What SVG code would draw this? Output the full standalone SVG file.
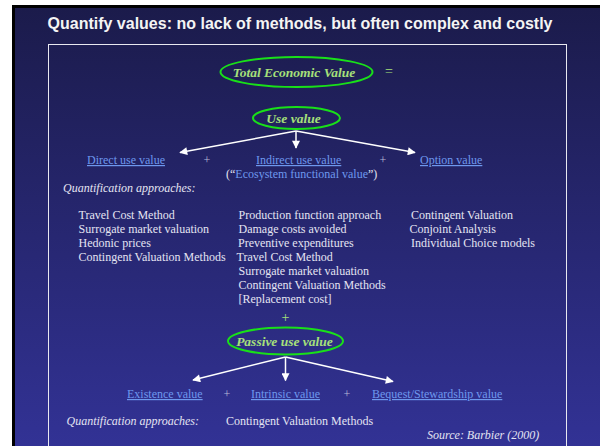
<svg xmlns="http://www.w3.org/2000/svg" width="600" height="446" viewBox="0 0 600 446">
<defs>
<linearGradient id="bg" x1="0" y1="0" x2="0" y2="1">
<stop offset="0" stop-color="#1b1b4b"/>
<stop offset="1" stop-color="#323295"/>
</linearGradient>
<marker id="a" viewBox="0 0 10 10" refX="9" refY="5" markerWidth="10" markerHeight="8" orient="auto" markerUnits="userSpaceOnUse">
<path d="M0,0 L10,5 L0,10 Z" fill="#ffffff"/>
</marker>
</defs>
<style>
.title{font-family:"Liberation Sans",Arial,sans-serif;font-weight:bold;font-size:16px;fill:#f4f4f4}
.ov{font-family:"Liberation Serif","Times New Roman",serif;font-weight:bold;font-style:italic;font-size:13.5px;fill:#a6e07a}
.ell{fill:none;stroke:#19e019;stroke-width:2}
.lnk{font-family:"Liberation Serif","Times New Roman",serif;font-size:12px;fill:#6e98ee;text-decoration:underline}
.blu{font-family:"Liberation Serif","Times New Roman",serif;font-size:12px;fill:#6e98ee}
.txt{font-family:"Liberation Serif","Times New Roman",serif;font-size:12px;fill:#e4e4f2}
.it{font-family:"Liberation Serif","Times New Roman",serif;font-style:italic;font-size:12px;fill:#e4e4f2}
.pl{font-family:"Liberation Serif","Times New Roman",serif;font-size:12px;fill:#b8b8d8}
.gp{font-family:"Liberation Serif","Times New Roman",serif;font-size:14px;fill:#a6e07a}
.con{stroke:#ffffff;stroke-width:1.5;fill:none;marker-end:url(#a)}
</style>
<rect x="0" y="0" width="600" height="446" fill="#ffffff"/>
<rect x="12" y="5" width="588" height="441" fill="#000000"/>
<rect x="15" y="8" width="585" height="438" fill="url(#bg)"/>
<text class="title" x="300" y="29" text-anchor="middle">Quantify values: no lack of methods, but often complex and costly</text>
<rect x="48.5" y="44.5" width="518" height="410" fill="none" stroke="#e8e8f0" stroke-width="1"/>

<g id="tev">
<ellipse class="ell" cx="296.5" cy="72" rx="76" ry="15"/>
<text class="ov" x="294" y="76.5" text-anchor="middle">Total Economic Value</text>
<text class="gp" x="389" y="76" text-anchor="middle">=</text>
</g>
<g id="use">
<ellipse class="ell" cx="296.5" cy="118" rx="43.5" ry="11"/>
<text class="ov" x="293.5" y="122.5" text-anchor="middle">Use value</text>
</g>
<g id="connectors">
<path class="con" d="M296,131 L180,152.5"/>
<path class="con" d="M296,131 L296,148"/>
<path class="con" d="M296,131 L415,152.5"/>
<path class="con" d="M285.5,357 L193,380"/>
<path class="con" d="M285.5,357 L285.5,380.5"/>
<path class="con" d="M285.5,357 L393,381.5"/>
</g>
<g id="direct">
<text class="lnk" x="87" y="164">Direct use value</text>
</g>
<text class="pl" x="207" y="164" text-anchor="middle">+</text>
<g id="indirect">
<text class="lnk" x="256" y="164">Indirect use value</text>
<text class="txt" x="226" y="178">(“<tspan class="blu">Ecosystem functional value</tspan>”)</text>
</g>
<text class="pl" x="383" y="164" text-anchor="middle">+</text>
<g id="option">
<text class="lnk" x="420" y="164">Option value</text>
</g>
<text class="it" x="63" y="192">Quantification approaches:</text>

<g id="col1">
<text class="txt" x="78.5" y="219">Travel Cost Method</text>
<text class="txt" x="78.5" y="233">Surrogate market valuation</text>
<text class="txt" x="78.5" y="247">Hedonic prices</text>
<text class="txt" x="78.5" y="261">Contingent Valuation Methods</text>
</g>
<g id="col2">
<text class="txt" x="238.5" y="219">Production function approach</text>
<text class="txt" x="238.5" y="233">Damage costs avoided</text>
<text class="txt" x="238" y="247">Preventive expenditures</text>
<text class="txt" x="236.5" y="261">Travel Cost Method</text>
<text class="txt" x="238.5" y="275">Surrogate market valuation</text>
<text class="txt" x="238.5" y="289">Contingent Valuation Methods</text>
<text class="txt" x="238.5" y="303">[Replacement cost]</text>
</g>
<g id="col3">
<text class="txt" x="411" y="219">Contingent Valuation</text>
<text class="txt" x="409.5" y="233">Conjoint Analysis</text>
<text class="txt" x="411" y="247">Individual Choice models</text>
</g>
<text class="gp" x="285.5" y="322" text-anchor="middle">+</text>
<g id="passive">
<ellipse class="ell" cx="285.5" cy="341" rx="57.5" ry="13.5"/>
<text class="ov" x="284.5" y="345.5" text-anchor="middle">Passive use value</text>
</g>
<g id="existence">
<text class="lnk" x="127" y="398">Existence value</text>
</g>
<text class="pl" x="227" y="398" text-anchor="middle">+</text>
<g id="intrinsic">
<text class="lnk" x="251" y="398">Intrinsic value</text>
</g>
<text class="pl" x="347" y="398" text-anchor="middle">+</text>
<g id="bequest">
<text class="lnk" x="372" y="398">Bequest/Stewardship value</text>
</g>
<text class="it" x="66.5" y="425">Quantification approaches:</text>
<text class="txt" x="226" y="425">Contingent Valuation Methods</text>
<text class="it" x="427" y="439">Source: Barbier (2000)</text>
</svg>
